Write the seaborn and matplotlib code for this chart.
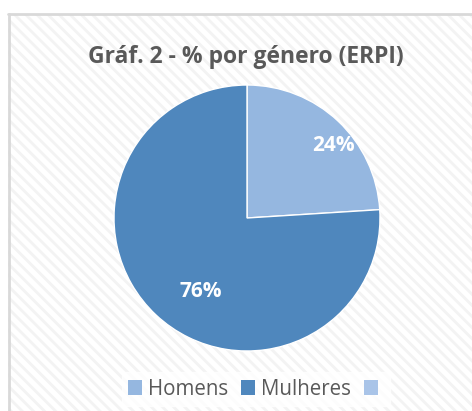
import numpy as np
import matplotlib.pyplot as plt
import seaborn as sns
from matplotlib.patches import Patch, Rectangle

# Data
labels = ["Homens", "Mulheres"]
values = [24, 76]
legend_labels = ["Homens", "Mulheres", ""]
colors = ["#95b7e0", "#4f87bd"]
legend_colors = ["#95b7e0", "#4f87bd", "#a9c4e8"]

sns.set_theme(style="white")
plt.rcParams["font.family"] = ["Open Sans", "DejaVu Sans"]
plt.rcParams["hatch.linewidth"] = 2.0
plt.rcParams["hatch.color"] = "#f3f3f3"

fig = plt.figure(figsize=(4.72, 4.11), dpi=100)
W, H = 472, 411

# chart area with hatched background and border on top/left
bg = Rectangle((8 / W, 0), 1.05 - 8 / W, 1 - 14 / H, transform=fig.transFigure,
               facecolor="white", edgecolor="#f3f3f3", hatch="\\\\\\", lw=0, zorder=-5)
fig.patches.append(bg)
fig.add_artist(plt.Line2D([8 / W, 1], [1 - 14.5 / H] * 2, color="#d9d9d9", lw=2,
                          transform=fig.transFigure))
fig.add_artist(plt.Line2D([8.5 / W] * 2, [0, 1 - 14 / H], color="#d9d9d9", lw=2,
                          transform=fig.transFigure))

fig.text(246 / W, 1 - 57 / H, "Gráf. 2 - % por género (ERPI)", ha="center", va="center",
         fontsize=16.5, fontweight="bold", color="#595959")

# pie: center (247, 218), radius 133 px
r = 133
ax = fig.add_axes([(247 - r) / W, 1 - (218 + r) / H, 2 * r / W, 2 * r / H], zorder=2)
wedges, texts, autotexts = ax.pie(values, colors=colors, startangle=90, counterclock=False,
                                  autopct="%d%%", radius=1,
                                  textprops=dict(color="white", fontsize=15, fontweight="bold"))
# label placement like Excel's best fit (distance, angle in degrees)
label_pos = [(0.85, 40), (0.65, 238)]
for t, (d, a) in zip(autotexts, label_pos):
    t.set_position((d * np.cos(np.radians(a)), d * np.sin(np.radians(a))))
ax.set_xlim(-1, 1)
ax.set_ylim(-1, 1)
ax.set_aspect("equal")
ax.axis("off")

handles = [Patch(facecolor=c, edgecolor="none") for c in legend_colors]
leg = fig.legend(handles, legend_labels, loc="center", bbox_to_anchor=(256 / W, 1 - 389 / H),
                 ncol=3, frameon=True, fontsize=14.8, handlelength=0.7, handleheight=0.7,
                 handletextpad=0.3, columnspacing=0.6, borderpad=0.3)
leg.get_frame().set_facecolor("white")
leg.get_frame().set_edgecolor("white")
leg.get_frame().set_alpha(0.8)
for t in leg.get_texts():
    t.set_color("#595959")

fig.savefig("out.png", dpi=100)
